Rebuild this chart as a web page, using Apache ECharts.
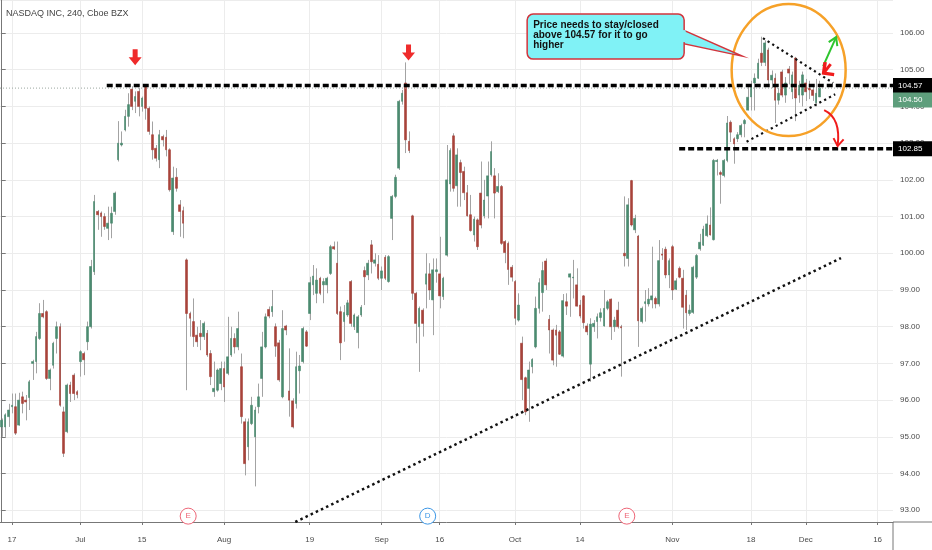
<!DOCTYPE html>
<html>
<head>
<meta charset="utf-8">
<script src="https://cdn.jsdelivr.net/npm/echarts@6/dist/echarts.min.js"></script>
<style>
html, body { margin: 0; padding: 0; background: #fff; }
#chart { width: 932px; height: 550px; }
</style>
</head>
<body>
<div id="chart"></div>
<script>
// 240-minute bars
var opens = [
    95.27, 95.27, 95.55, 95.82, 95.82, 95.32, 96.09, 96.0, 96.07, 97.0,
    97.05, 97.68, 98.36, 98.41, 96.59, 96.95, 97.68, 98.0, 95.68, 95.14,
    96.41, 96.68, 96.23, 97.05, 97.27, 97.59, 98.0, 99.5, 101.14, 101.1,
    101.0, 100.68, 100.82, 101.14, 102.55, 102.95, 103.36, 103.73,
    104.47, 104.14, 104.41, 104.0, 104.55, 103.95, 103.23, 102.86, 102.55, 103.18,
    103.16, 102.82, 100.59, 102.07, 101.32, 101.16, 99.82, 98.36, 98.14, 97.77,
    97.82, 97.73, 97.82, 97.27, 96.23, 96.27, 96.45, 96.86, 96.73, 97.23,
    97.68, 97.45, 96.91, 95.41, 94.73, 95.36, 95.0, 95.82,
    96.59, 97.45, 98.47, 98.41, 98.0, 97.56, 96.09, 98.02, 96.25, 95.98,
    95.91, 96.8, 97.05, 97.86, 98.36, 99.14, 98.91, 99.32, 99.14, 99.14,
    99.45, 100.18, 99.73, 98.41, 98.14, 98.32, 99.23, 98.0, 97.84, 98.32,
    99.53, 99.41, 100.23, 99.73, 99.7, 99.32, 99.89, 99.23, 100.95, 101.55, 102.32,
    104.14, 104.64, 103.05, 101.02, 98.91, 98.0, 98.45, 99.16, 99.44, 98.73,
    99.5, 99.44, 98.82, 99.95, 101.89, 103.2, 101.84, 102.47, 102.23, 101.65,
    101.05, 100.5, 100.91, 101.64, 101.02, 101.56, 102.14, 102.11, 101.68, 101.82,
    100.32, 100.27, 99.62, 99.23, 98.18, 97.55, 96.61, 96.32, 96.91, 97.45, 98.5, 98.93,
    99.79, 98.2, 97.91, 97.91, 97.86, 97.2, 98.68, 99.35, 99.33, 99.14,
    98.59, 98.84, 98.02, 96.98, 98.0, 98.14, 98.25, 98.02, 98.5, 98.75,
    98.0, 98.45, 98.0, 100.0, 99.86, 101.98, 100.64, 100.47, 98.14, 98.63,
    98.62, 98.73, 98.77, 98.62, 99.98, 100.11, 99.41, 100.18, 99.02, 99.59, 99.32, 98.86, 98.36,
    98.39, 99.35, 100.12, 100.22, 100.48, 100.77, 100.37, 102.5, 102.2, 102.12,
    102.53, 103.57, 103.12, 103.12, 103.23, 103.53, 103.9, 104.26, 104.64, 104.77,
    105.45, 105.2, 105.54, 104.72, 104.77, 104.17, 104.94, 104.31, 105.02, 104.4,
    105.32, 104.31, 104.31, 104.64, 104.5, 104.45, 104.1, 104.26
];
var closes = [
    95.45, 95.6, 95.73, 95.86, 95.1, 96.0, 95.91, 95.95, 96.5, 97.05,
    97.73, 98.36, 98.27, 96.59, 96.82, 97.55, 98.0, 95.86, 94.55, 96.41,
    96.18, 96.18, 96.15, 97.32, 97.1, 98.0, 99.64, 101.41, 101.05, 101.0,
    100.73, 100.82, 101.09, 101.64, 103.0, 103.0, 103.73, 104.05,
    104.0, 104.27, 104.0, 104.23, 103.95, 103.32, 102.82, 102.59, 103.23, 103.09,
    102.82, 101.73, 102.05, 101.77, 101.14, 100.82, 98.36, 98.23, 97.73, 97.59,
    97.73, 98.09, 97.23, 96.64, 96.32, 96.82, 96.86, 96.36, 97.18, 97.68,
    97.45, 97.95, 95.55, 94.27, 95.41, 95.86, 95.73, 96.09,
    97.45, 98.27, 98.29, 98.55, 97.47, 96.55, 97.95, 97.91, 96.0, 95.27,
    96.91, 96.93, 97.95, 97.47, 99.2, 99.38, 99.27, 98.91, 99.23, 99.32,
    100.18, 100.12, 98.36, 97.56, 98.39, 98.65, 98.09, 98.32, 98.27, 98.53,
    99.36, 99.73, 99.77, 99.82, 99.32, 99.52, 99.32, 99.91, 101.55, 102.07, 104.14,
    104.36, 103.09, 102.8, 98.91, 98.09, 98.5, 98.09, 99.44, 99.0, 99.55,
    99.55, 98.84, 99.32, 102.0, 102.8, 101.77, 102.68, 102.2, 101.65, 101.02,
    100.62, 100.93, 100.18, 100.77, 101.45, 102.11, 102.77, 101.64, 101.82, 100.27,
    100.02, 99.56, 99.35, 98.23, 98.59, 96.56, 95.68, 96.82, 97.11, 98.5, 99.2, 99.53,
    99.14, 97.91, 97.09, 97.77, 97.25, 98.71, 98.56, 99.44, 99.35, 98.56,
    98.29, 98.11, 97.86, 98.07, 98.09, 98.27, 98.38, 98.5, 98.68, 98.0,
    98.18, 98.0, 97.97, 99.93, 101.32, 100.77, 100.95, 98.16, 98.5, 98.68,
    98.75, 98.84, 98.62, 99.8, 99.95, 99.41, 99.8, 99.0, 99.25, 99.35, 98.53, 98.38, 98.45,
    99.62, 99.94, 100.3, 100.66, 100.8, 100.5, 102.53, 102.53, 102.15, 102.53,
    103.55, 103.3, 102.98, 103.23, 103.48, 103.62, 104.25, 104.58, 104.77, 105.18,
    105.2, 105.73, 104.72, 104.85, 104.17, 104.36, 104.31, 104.64, 104.91, 104.86,
    104.23, 104.58, 104.86, 104.4, 104.45, 104.3, 104.36, 104.5
];
var lows = [
    95.0, 95.0, 95.27, 95.64, 95.05, 95.3, 95.64, 95.45, 95.73, 96.55,
    96.73, 97.64, 98.23, 96.55, 96.27, 96.86, 97.27, 95.82, 94.45, 95.1,
    95.95, 96.0, 96.05, 96.64, 96.68, 97.36, 97.95, 99.41, 100.64, 100.45,
    100.64, 100.36, 100.41, 101.05, 102.5, 102.91, 103.32, 103.45,
    103.9, 103.82, 103.73, 103.86, 103.64, 103.23, 102.55, 102.5, 102.32, 102.91,
    102.64, 101.68, 100.5, 101.68, 100.45, 100.41, 96.27, 97.73, 97.45, 97.45,
    97.36, 97.64, 97.18, 96.41, 96.09, 96.23, 96.27, 95.95, 96.68, 97.18,
    97.27, 97.36, 95.36, 93.95, 94.36, 95.32, 93.65, 95.64,
    96.09, 97.41, 98.23, 98.27, 97.18, 96.5, 96.05, 97.77, 95.55, 95.23,
    95.77, 96.18, 97.0, 97.45, 98.18, 98.86, 98.64, 98.86, 98.64, 98.91,
    99.41, 100.09, 98.32, 97.09, 97.59, 98.27, 98.0, 97.91, 97.41, 98.27,
    98.59, 99.27, 99.45, 99.64, 99.27, 99.0, 99.27, 99.2, 100.36, 101.5, 102.27,
    104.05, 102.73, 102.73, 98.73, 97.55, 96.77, 97.73, 98.5, 98.73, 97.77,
    99.2, 98.5, 98.73, 99.91, 101.68, 101.68, 101.27, 101.27, 101.45, 101.0,
    100.59, 100.32, 100.09, 100.68, 100.95, 100.95, 102.09, 100.95, 101.64, 100.23,
    99.73, 99.14, 99.23, 98.05, 98.14, 96.0, 95.59, 95.41, 96.73, 97.41, 98.36, 98.41,
    99.0, 97.27, 96.95, 96.91, 97.23, 97.16, 98.32, 98.27, 98.77, 98.55,
    98.23, 97.95, 97.77, 96.5, 97.86, 97.68, 98.14, 98.0, 98.45, 97.64,
    97.86, 97.95, 96.64, 99.64, 99.64, 100.73, 100.55, 97.45, 98.09, 98.14,
    98.55, 98.5, 98.5, 98.55, 99.82, 99.32, 99.05, 98.73, 99.0, 99.32, 97.95, 97.91, 98.3,
    98.35, 99.3, 100.07, 100.2, 100.44, 100.48, 100.35, 102.12, 101.35, 102.07,
    102.48, 103.03, 102.44, 103.03, 103.16, 103.16, 103.89, 103.89, 103.89, 104.75,
    105.1, 105.1, 104.6, 104.5, 103.55, 104.05, 104.25, 104.1, 104.6, 104.2,
    103.6, 104.1, 104.0, 104.15, 104.2, 104.15, 104.0, 104.26
];
var highs = [
    95.5, 95.64, 95.9, 96.18, 96.18, 96.2, 96.23, 96.14, 96.55, 97.1,
    97.86, 98.64, 98.73, 98.45, 96.86, 97.59, 98.14, 98.09, 95.82, 96.45,
    96.5, 96.73, 96.27, 97.36, 97.32, 98.14, 99.82, 101.59, 101.18, 101.14,
    101.09, 101.27, 101.27, 101.68, 103.6, 103.32, 103.91, 104.36,
    104.55, 104.41, 104.5, 104.27, 104.59, 104.0, 103.59, 102.95, 103.36, 103.23,
    103.36, 102.86, 102.36, 102.32, 101.45, 101.27, 99.86, 98.41, 98.77, 98.0,
    98.18, 98.14, 97.91, 97.36, 97.05, 96.86, 97.05, 97.05, 98.27, 98.0,
    97.82, 98.41, 97.27, 95.5, 95.5, 96.09, 95.82, 96.45,
    97.86, 98.36, 98.55, 99.0, 98.09, 97.64, 98.45, 98.05, 97.41, 96.05,
    97.32, 97.23, 98.0, 97.91, 99.36, 99.68, 99.59, 99.36, 99.32, 99.36,
    100.23, 100.32, 100.32, 98.55, 98.59, 98.73, 99.27, 98.36, 98.32, 98.59,
    99.64, 99.82, 100.36, 100.0, 99.95, 99.64, 99.95, 99.95, 101.59, 102.14, 104.18,
    104.45, 105.2, 103.32, 101.05, 98.95, 98.55, 98.5, 100.0, 99.73, 99.86,
    99.86, 100.45, 99.36, 102.95, 102.86, 103.27, 102.86, 102.55, 102.36, 101.86,
    101.59, 101.0, 100.95, 102.5, 102.0, 102.5, 103.05, 102.32, 102.18, 101.86,
    100.36, 100.32, 99.68, 99.27, 98.91, 97.73, 96.64, 97.05, 97.14, 98.82, 99.32, 99.77,
    99.86, 98.32, 97.95, 98.05, 97.91, 98.89, 98.91, 99.45, 99.82, 99.59,
    98.73, 98.86, 98.09, 98.23, 98.18, 98.36, 98.5, 99.0, 98.73, 98.77,
    98.27, 98.68, 98.05, 101.55, 101.5, 102.0, 101.05, 100.5, 98.55, 99.0,
    99.05, 100.18, 98.82, 100.36, 100.14, 100.18, 99.86, 100.23, 99.32, 99.64, 99.55, 99.0, 98.6,
    99.66, 99.98, 100.53, 100.75, 101.03, 101.25, 102.57, 102.57, 102.25, 102.57,
    103.74, 103.62, 103.16, 103.3, 103.53, 103.66, 104.57, 104.7, 104.9, 105.3,
    105.9, 105.8, 105.6, 104.98, 104.9, 104.5, 105.0, 104.8, 105.1, 104.95,
    105.35, 104.7, 104.95, 104.75, 104.7, 104.6, 104.75, 104.7
];

var slotCount = 261;   // bars plus empty room on the right
var tickIdx = [3, 23, 41, 65, 90, 111, 128, 150, 169, 196, 219, 235, 256];
var tickText = ['17', 'Jul', '15', 'Aug', '19', 'Sep', '16', 'Oct', '14', 'Nov', '18', 'Dec', '16'];

var resistance = 104.57;
var support = 102.85;
var lastPrice = 104.50;

// drawn lines, [bar index, price]
var resLine = [[30.7, resistance], [260.5, resistance]];
var supLine = [[198, support], [260.5, support]];
var trendLine = [[85.8, 92.68], [245.3, 99.87]];
var triTop = [[222.5, 105.86], [243, 104.64]];
var triBottom = [[217.7, 103.04], [243.6, 104.33]];

var up = '#4b8b70', down = '#a8433a', wick = '#a3a3a3';
var font = '"Liberation Sans", Arial, sans-serif';

var slots = [];
for (var i = 0; i < slotCount; i++) slots.push(String(i));

var wickData = lows.map(function (l, i) { return [i, l, highs[i]]; });
var bodyData = opens.map(function (o, i) {
    var c = closes[i];
    return [o, c, Math.min(o, c), Math.max(o, c)];
});

function showTick(idx) { return tickIdx.indexOf(idx) >= 0; }

function lineSeries(data, color, width, type, z) {
    return {
        type: 'line', xAxisIndex: 1, yAxisIndex: 0, data: data,
        showSymbol: false, symbol: 'none', silent: true, z: z,
        lineStyle: { color: color, width: width, type: type, cap: 'butt' }
    };
}

var priceLineSeries = lineSeries([[-0.5, lastPrice], [260.5, lastPrice]], '#9aa79f', 1, [1, 2], 4);
priceLineSeries.markLine = {
    silent: true, symbol: ['none', 'none'], z: 1, label: { show: false },
    lineStyle: { color: '#ececec', width: 1, type: 'solid' },
    data: tickIdx.map(function (t) { return { xAxis: t }; })
};

var option = {
    animation: false,
    backgroundColor: '#fff',
    textStyle: { fontFamily: font },
    grid: { left: 0, right: 39, top: 0, bottom: 28 },
    xAxis: [{
        type: 'category',
        data: slots,
        boundaryGap: true,
        axisLine: { lineStyle: { color: '#777' } },
        axisTick: { show: true, alignWithLabel: true, length: 3, interval: showTick, lineStyle: { color: '#777' } },
        axisLabel: {
            interval: showTick, color: '#4a4a4a', fontSize: 8, margin: 14,
            formatter: function (v, idx) { return tickText[tickIdx.indexOf(idx)]; }
        },
        splitLine: { show: false }
    }, {
        type: 'value', min: -0.5, max: slotCount - 0.5, show: false
    }],
    yAxis: {
        type: 'value', position: 'right', min: 92.68, max: 106.9, splitNumber: 14,
        axisLine: { show: true, lineStyle: { color: '#777' } },
        axisTick: { show: true, length: 4, lineStyle: { color: '#777' } },
        axisLabel: {
            color: '#4a4a4a', fontSize: 8, margin: 7, showMinLabel: false, showMaxLabel: false,
            formatter: function (v) { return v.toFixed(2); }
        },
        splitLine: { show: true, lineStyle: { color: '#ececec' } }
    },
    series: [
        {
            type: 'custom', name: 'wick', data: wickData, silent: true, z: 2,
            encode: { x: 0, y: [1, 2] },
            renderItem: function (params, api) {
                var a = api.coord([api.value(0), api.value(1)]);
                var b = api.coord([api.value(0), api.value(2)]);
                var x = Math.round(a[0]) + 0.5;
                return { type: 'line', shape: { x1: x, y1: a[1], x2: x, y2: b[1] }, style: { stroke: wick, lineWidth: 1 } };
            }
        },
        {
            type: 'candlestick', name: 'NDAQ', data: bodyData, barWidth: 2.2, z: 3,
            itemStyle: { color: up, color0: down, borderColor: up, borderColor0: down, borderWidth: 0.6 }
        },
        priceLineSeries,
        lineSeries(resLine, '#000', 3.5, [6, 3], 5),
        lineSeries(supLine, '#000', 3.5, [6, 3], 5),
        lineSeries(trendLine, '#111', 2.5, [2.5, 3.2], 5),
        lineSeries(triTop, '#111', 2.2, [2.2, 3.3], 5),
        lineSeries(triBottom, '#111', 2.2, [2.2, 3.3], 5)
    ]
};

var chart = echarts.init(document.getElementById('chart'));
chart.setOption(option);

function px(i, p) { return chart.convertToPixel({ xAxisIndex: 1, yAxisIndex: 0 }, [i, p]); }
function py(p) { return chart.convertToPixel({ yAxisIndex: 0 }, p); }

function headPts(tip, from, len, spread) {
    var a = Math.atan2(tip[1] - from[1], tip[0] - from[0]);
    return [
        [tip[0] - len * Math.cos(a - spread), tip[1] - len * Math.sin(a - spread)],
        tip,
        [tip[0] - len * Math.cos(a + spread), tip[1] - len * Math.sin(a + spread)]
    ];
}

function downArrow(tip) {
    var x = tip[0], y = tip[1];
    return {
        type: 'polygon', z: 20,
        shape: { points: [[x - 2.5, y - 16], [x + 2.5, y - 16], [x + 2.5, y - 8], [x + 6.5, y - 8],
            [x, y], [x - 6.5, y - 8], [x - 2.5, y - 8]] },
        style: { fill: '#ef2b2b' }
    };
}

function axisBox(price, shift, fill, label) {
    var y = py(price) + shift;
    var x = px(slotCount - 0.5, price)[0];
    return [
        { type: 'rect', z: 30, shape: { x: x, y: y - 7.5, width: 39, height: 15 }, style: { fill: fill } },
        { type: 'text', z: 31, style: { text: label, x: x + 5, y: y, fill: '#fff', font: '8px ' + font, textVerticalAlign: 'middle' } }
    ];
}

function eventMark(idx, letter, color) {
    var p = px(idx, 92.84);
    return [
        { type: 'circle', z: 20, shape: { cx: p[0], cy: p[1], r: 8 }, style: { fill: '#fff', stroke: color, lineWidth: 1 } },
        { type: 'text', z: 21, style: { text: letter, x: p[0], y: p[1], fill: color, font: '8px ' + font, textAlign: 'center', textVerticalAlign: 'middle' } }
    ];
}

var c = px(230, 104.99);            // centre of the circled pattern
var tip = [c[0] - 46.5, c[1] - 14]; // callout pointer
var boxL = tip[0] - 215, boxR = tip[0] - 58, boxT = tip[1] - 42, boxB = tip[1] + 3;

var gUp0 = [c[0] + 34.5, c[1] - 4], gUp1 = [c[0] + 47.5, c[1] - 33];
var rCorner = [c[0] + 35, c[1] + 3];
var cStart = [c[0] + 35.5, c[1] + 40], cCtrl = [c[0] + 52.5, c[1] + 48], cEnd = [c[0] + 49, c[1] + 76];

var axisRight = px(slotCount - 0.5, 100)[0];
var axisBottom = py(92.68);
var calloutFill = '#80f2f6', calloutEdge = '#d2343c';

var graphics = [
    { type: 'text', z: 20, style: { text: 'NASDAQ INC, 240, Cboe BZX', x: 6, y: 14, fill: '#444', font: '9px ' + font, textVerticalAlign: 'middle' } },
    { type: 'line', z: 20, shape: { x1: axisRight, y1: axisBottom, x2: 932, y2: axisBottom }, style: { stroke: '#777', lineWidth: 1 } },
    { type: 'line', z: 20, shape: { x1: axisRight, y1: axisBottom, x2: axisRight, y2: 550 }, style: { stroke: '#777', lineWidth: 1 } },
    downArrow(px(39, 105.12)),
    downArrow(px(118.9, 105.25)),
    { type: 'ellipse', z: 20, shape: { cx: c[0], cy: c[1], rx: 57, ry: 66 }, style: { fill: 'none', stroke: '#f6a128', lineWidth: 2.5 } },
    { type: 'polygon', z: 22, shape: { points: [[boxR - 3, tip[1] - 27], tip, [boxR - 3, tip[1] - 13]] }, style: { fill: calloutFill, stroke: calloutEdge, lineWidth: 1.5 } },
    { type: 'rect', z: 23, shape: { x: boxL, y: boxT, width: boxR - boxL, height: boxB - boxT, r: 6 }, style: { fill: calloutFill, stroke: calloutEdge, lineWidth: 1.5 } },
    { type: 'rect', z: 24, shape: { x: boxR - 1.5, y: tip[1] - 26, width: 3, height: 12 }, style: { fill: calloutFill } },
    { type: 'text', z: 25, style: {
        text: 'Price needs to stay/closed\nabove 104.57 for it to go\nhigher',
        x: boxL + 6, y: boxT + 6, fill: '#111', font: 'bold 10px ' + font, lineHeight: 10
    } },
    { type: 'line', z: 21, shape: { x1: gUp0[0], y1: gUp0[1], x2: gUp1[0], y2: gUp1[1] }, style: { stroke: '#2ec52e', lineWidth: 2 } },
    { type: 'polyline', z: 21, shape: { points: headPts(gUp1, gUp0, 9, 0.55) }, style: { stroke: '#2ec52e', lineWidth: 2, fill: 'none' } },
    { type: 'polyline', z: 21, shape: { points: [[c[0] + 36.5, c[1] - 8], rCorner, [c[0] + 45.5, c[1] + 4.5]] }, style: { stroke: '#f01c1c', lineWidth: 3.5, fill: 'none' } },
    { type: 'line', z: 21, shape: { x1: rCorner[0], y1: rCorner[1], x2: c[0] + 42, y2: c[1] - 6 }, style: { stroke: '#f01c1c', lineWidth: 3 } },
    { type: 'bezierCurve', z: 21, shape: { x1: cStart[0], y1: cStart[1], cpx1: cCtrl[0], cpy1: cCtrl[1], x2: cEnd[0], y2: cEnd[1] }, style: { stroke: '#f01c1c', lineWidth: 2, fill: 'none' } },
    { type: 'polyline', z: 21, shape: { points: headPts(cEnd, [c[0] + 51, c[1] + 60], 9, 0.6) }, style: { stroke: '#f01c1c', lineWidth: 2, fill: 'none' } }
];

graphics = graphics
    .concat(axisBox(resistance, 0, '#000', '104.57'))
    .concat(axisBox(lastPrice, 12, '#5e9e7c', '104.50'))
    .concat(axisBox(support, 0, '#000', '102.85'))
    .concat(eventMark(54.5, 'E', '#ee6677'))
    .concat(eventMark(124.5, 'D', '#3c97e6'))
    .concat(eventMark(182.7, 'E', '#ee6677'));

chart.setOption({ graphic: graphics });
</script>
</body>
</html>
